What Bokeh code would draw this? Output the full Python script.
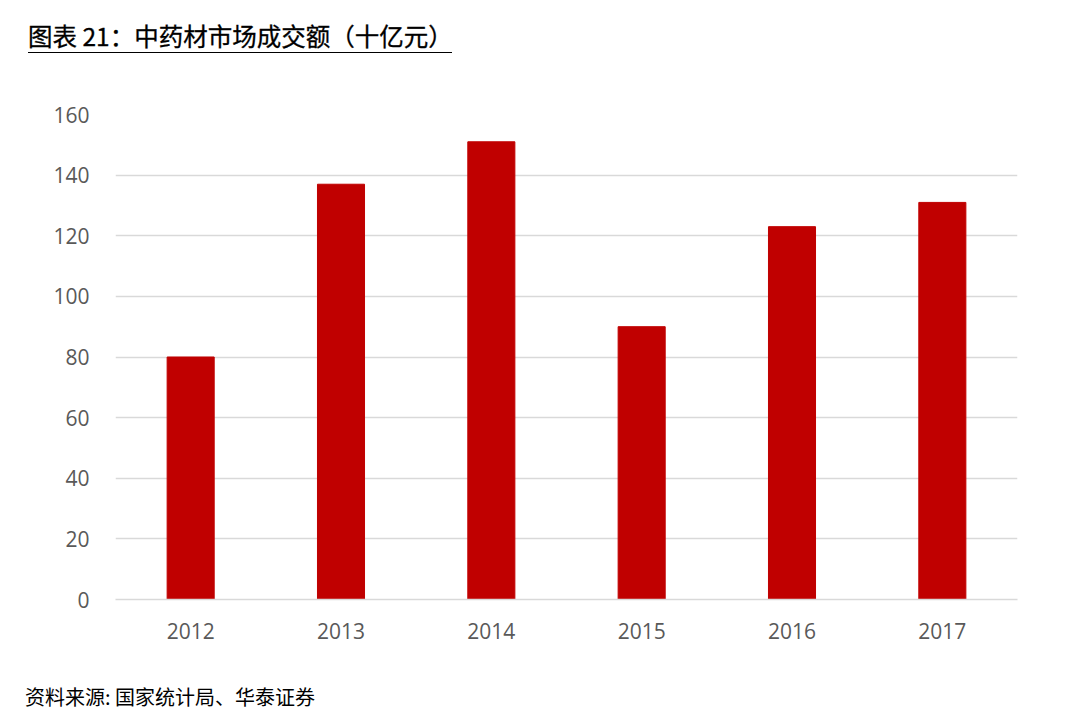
from bokeh.plotting import figure
from bokeh.models import Div, FixedTicker, Range1d
from bokeh.layouts import column
from bokeh.embed import file_html
from bokeh.resources import INLINE

years = ["2012", "2013", "2014", "2015", "2016", "2017"]
values = [80, 137, 151, 90, 123, 131]
y_ticks = [0, 20, 40, 60, 80, 100, 120, 140, 160]
title_text = "图表 21：中药材市场成交额（十亿元）"
source_text = "资料来源: 国家统计局、华泰证券"

W = 1069
title_div = Div(
    text=f'<div style="position:relative;width:{W}px;height:65px;">'
         f'<div style="position:absolute;left:28px;top:21px;width:424px;'
         f'font-family:\'Noto Sans CJK SC\';font-size:24.5px;line-height:30px;color:#000;'
         f'-webkit-text-stroke:0.3px #000;'
         f'border-bottom:1.5px solid #000;padding-bottom:1px;white-space:nowrap;">{title_text}</div></div>',
    width=W, height=65, margin=0)

p = figure(x_range=years, width=W, height=620, output_backend="svg",
           toolbar_location=None, min_border_left=115, min_border_right=52,
           min_border_top=49, min_border_bottom=86)
p.y_range = Range1d(0, 160)
p.vbar(x=years, top=values, width=0.313, color="#c00000", line_color="#c00000")
p.outline_line_color = None
p.xgrid.grid_line_color = None
p.ygrid.grid_line_color = "#d9d9d9"
p.ygrid.grid_line_width = 1.5
p.yaxis.ticker = FixedTicker(ticks=y_ticks)
for ax in (p.xaxis[0], p.yaxis[0]):
    ax.major_tick_line_color = None
    ax.minor_tick_line_color = None
    ax.major_label_text_font = "Open Sans"
    ax.major_label_text_font_size = "21px"
    ax.major_label_text_color = "#595959"
p.yaxis.axis_line_color = None
p.xaxis.axis_line_color = "#d9d9d9"
p.xaxis.axis_line_width = 1.5
p.yaxis.major_label_standoff = 20
p.xaxis.major_label_standoff = 17

footer_div = Div(
    text=f'<div style="position:relative;width:{W}px;height:25px;">'
         f'<div style="position:absolute;left:25px;top:0px;font-family:\'Noto Sans CJK SC\';'
         f'font-size:20px;line-height:24px;color:#000;white-space:nowrap;">{source_text}</div></div>',
    width=W, height=25, margin=0)

layout = column(title_div, p, footer_div, spacing=0)
open("out.html", "w").write(file_html(layout, INLINE))
